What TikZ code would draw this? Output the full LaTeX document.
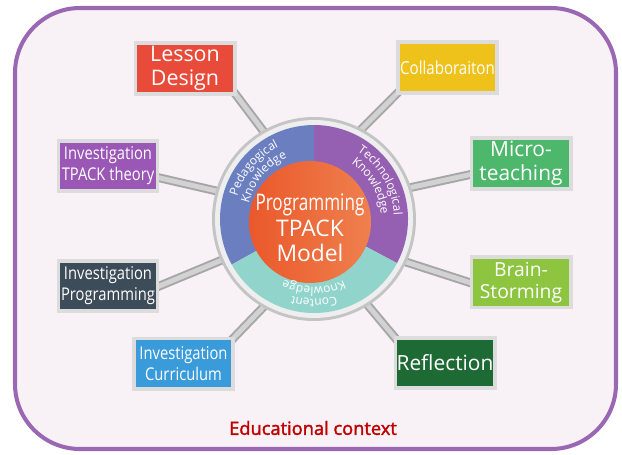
\documentclass[tikz,border=0pt]{standalone}
\usepackage{fontspec}
\setmainfont{Open Sans}
\newfontfamily\narrowfont[FakeStretch=0.84]{Open Sans}
\newfontfamily\corefont[FakeStretch=0.75]{Open Sans}
\newfontfamily\headfont[FakeBold=2]{Open Sans}
\usepackage{xcolor}
\usepackage{tikz}
\usetikzlibrary{
  positioning,
  calc,
  shapes,
  decorations.text}
\definecolor{framepurple}{HTML}{9A67B3}
\definecolor{paper}{HTML}{F8F2F7}
\definecolor{boxframe}{HTML}{DCDCDC}
\definecolor{ringout}{HTML}{C4C4C4}
\definecolor{ringin}{HTML}{EEEEEE}
\definecolor{spokedark}{HTML}{A6A6A6}
\definecolor{spokelight}{HTML}{D2D2D2}
\definecolor{pedblue}{HTML}{6B7FC0}
\definecolor{techpurple}{HTML}{9660B2}
\definecolor{contteal}{HTML}{91D4CB}
\definecolor{coreleft}{HTML}{EA582A}
\definecolor{coreright}{HTML}{EF804E}
\definecolor{lessonred}{HTML}{E84B3A}
\definecolor{theorypurple}{HTML}{9A57B5}
\definecolor{progrslate}{HTML}{3D4C59}
\definecolor{curricblue}{HTML}{3A9BDA}
\definecolor{collabyellow}{HTML}{EFC21B}
\definecolor{microgreen}{HTML}{4DB86C}
\definecolor{brainlime}{HTML}{8DC540}
\definecolor{reflectgreen}{HTML}{1E6A35}
\definecolor{contextred}{HTML}{C00000}
\pgfdeclarelayer{paperlayer}
\pgfdeclarelayer{spokelayer}
\pgfsetlayers{paperlayer,spokelayer,main}

\begin{document}
\begin{tikzpicture}[x=0.02cm, y=0.02cm,
  box/.style={rectangle, draw=boxframe, line width=2pt, minimum width=1.99cm, minimum height=1.01cm, inner sep=0pt, text=white, align=center},
  spoke/.style={draw=spokedark, line width=1.1pt, double=spokelight, double distance=2.8pt, shorten <=-4pt, shorten >=-6pt},
  arclabel/.style={decorate, decoration={text along path, text align=center, text={#1}}}]
\useasboundingbox (0,0) rectangle (622,454);
\begin{pgfonlayer}{paperlayer}
\draw[framepurple, line width=2.3pt, fill=paper, rounded corners=1.3cm] (15,5) rectangle (616,446);
\end{pgfonlayer}

\coordinate (hub) at (314,235);
\node[circle, fill=ringout, minimum size=4.08cm, inner sep=0pt] (ring) at (hub) {};
\fill[ringin] (hub) circle (99);
\fill[pedblue] (hub) -- ++(90:94) arc[start angle=90, end angle=209, radius=94] -- cycle;
\fill[techpurple] (hub) -- ++(-28:94) arc[start angle=-28, end angle=90, radius=94] -- cycle;
\fill[contteal] (hub) -- ++(209:94) arc[start angle=209, end angle=332, radius=94] -- cycle;
\shade[left color=coreleft, right color=coreright] (310,232) circle (61);
\node[text=white, align=center, font=\fontsize{13}{14.5}\selectfont] (model) at (310,226) {{\corefont Programming}\\TPACK\\Model};

\path[arclabel={|\fontsize{6.8}{7.5}\selectfont\color{white}|Pedagogical}] ($(hub)+(185:80)$) arc[start angle=185, end angle=95, radius=80];
\path[arclabel={|\fontsize{6.8}{7.5}\selectfont\color{white}|Knowledge}] ($(hub)+(185:67)$) arc[start angle=185, end angle=95, radius=67];
\path[arclabel={|\fontsize{6.8}{7.5}\selectfont\color{white}|Technological}] ($(hub)+(75:80)$) arc[start angle=75, end angle=-15, radius=80];
\path[arclabel={|\fontsize{6.8}{7.5}\selectfont\color{white}|Knowledge}] ($(hub)+(75:67)$) arc[start angle=75, end angle=-15, radius=67];
\path[arclabel={|\fontsize{6.8}{7.5}\selectfont\color{white}|Content}] ($(hub)+(-45:80)$) arc[start angle=-45, end angle=-135, radius=80];
\path[arclabel={|\fontsize{6.8}{7.5}\selectfont\color{white}|Knowledge}] ($(hub)+(-45:68)$) arc[start angle=-45, end angle=-135, radius=68];

\node[box, fill=lessonred, font=\fontsize{12.2}{13.6}\selectfont] (lesson) at (185,385.5) {Lesson\\Design};
\node[box, fill=theorypurple, font=\narrowfont\fontsize{10}{11.9}\selectfont] (theory) at (108,288) {Investigation\\TPACK theory};
\node[box, fill=progrslate, font=\narrowfont\fontsize{10}{11.9}\selectfont, below = 1.32cm of theory] (progr) {Investigation\\Programming};
\node[box, fill=curricblue, font=\narrowfont\fontsize{10}{11.9}\selectfont] (curric) at (183.5,90.5) {Investigation\\Curriculum};
\node[box, fill=collabyellow, font=\narrowfont\fontsize{10.2}{12}\selectfont] (collab) at (447.5,386.5) {Collaboraiton};
\node[box, fill=microgreen, font=\fontsize{11.9}{13.6}\selectfont] (micro) at (521,290.5) {Micro-\\teaching};
\node[box, fill=brainlime, font=\fontsize{11}{12.5}\selectfont, below = 1.30cm of micro] (brain) {Brain-\\Storming};
\node[box, fill=reflectgreen, font=\fontsize{11.9}{13.6}\selectfont] (reflect) at (445,91) {Reflection};

\begin{pgfonlayer}{spokelayer}
\draw[spoke] (ring.120) -- (lesson.south east);
\draw[spoke] (ring.164) -- (theory.center);
\draw[spoke] (ring.204) -- (progr.east);
\draw[spoke] (ring.240) -- (curric.north east);
\draw[spoke] (ring.62) -- (collab.south west);
\draw[spoke] (ring.18) -- (micro.center);
\draw[spoke] (ring.335) -- (brain.west);
\draw[spoke] (ring.302) -- (reflect.north west);
\end{pgfonlayer}

\node[text=contextred, font=\headfont\fontsize{10.4}{12}\selectfont] (context) at (313,26) {Educational context};
\end{tikzpicture}
\end{document}
